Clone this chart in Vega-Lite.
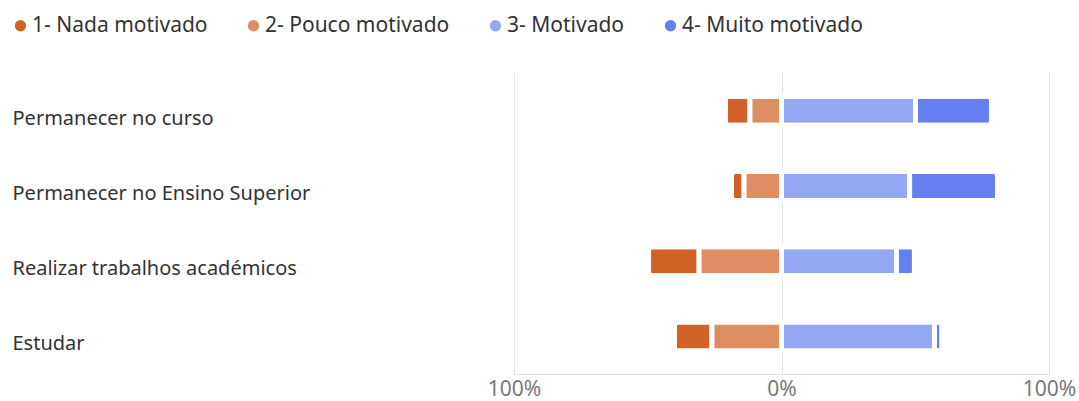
{
  "$schema": "https://vega.github.io/schema/vega-lite/v6.json",
  "width": 535,
  "height": 301,
  "autosize": "none",
  "padding": {"left": 514, "top": 73, "right": 30, "bottom": 27},
  "background": "white",
  "config": {
    "font": "Noto Sans, sans-serif",
    "view": {"stroke": null}
  },
  "data": {
    "values": [
      {"item": "Permanecer no curso", "cat": "1- Nada motivado", "pct": 9.2},
      {"item": "Permanecer no curso", "cat": "2- Pouco motivado", "pct": 11.8},
      {"item": "Permanecer no curso", "cat": "3- Motivado", "pct": 50.1},
      {"item": "Permanecer no curso", "cat": "4- Muito motivado", "pct": 28.4},
      {"item": "Permanecer no Ensino Superior", "cat": "1- Nada motivado", "pct": 4.7},
      {"item": "Permanecer no Ensino Superior", "cat": "2- Pouco motivado", "pct": 14.0},
      {"item": "Permanecer no Ensino Superior", "cat": "3- Motivado", "pct": 47.9},
      {"item": "Permanecer no Ensino Superior", "cat": "4- Muito motivado", "pct": 32.9},
      {"item": "Realizar trabalhos académicos", "cat": "1- Nada motivado", "pct": 18.9},
      {"item": "Realizar trabalhos académicos", "cat": "2- Pouco motivado", "pct": 30.8},
      {"item": "Realizar trabalhos académicos", "cat": "3- Motivado", "pct": 43.0},
      {"item": "Realizar trabalhos académicos", "cat": "4- Muito motivado", "pct": 6.7},
      {"item": "Estudar", "cat": "1- Nada motivado", "pct": 14.0},
      {"item": "Estudar", "cat": "2- Pouco motivado", "pct": 26.0},
      {"item": "Estudar", "cat": "3- Motivado", "pct": 57.2},
      {"item": "Estudar", "cat": "4- Muito motivado", "pct": 2.8}
    ]
  },
  "transform": [
    {"calculate": "(datum.cat == '1- Nada motivado' || datum.cat == '2- Pouco motivado') ? -datum.pct : datum.pct", "as": "signed"},
    {"calculate": "(datum.cat == '1- Nada motivado' || datum.cat == '4- Muito motivado') ? 2 : 1", "as": "ord"}
  ],
  "mark": {"type": "bar", "size": 29, "stroke": "white", "strokeWidth": 5, "cornerRadius": 4},
  "encoding": {
    "y": {
      "field": "item",
      "type": "nominal",
      "sort": ["Permanecer no curso", "Permanecer no Ensino Superior", "Realizar trabalhos académicos", "Estudar"],
      "title": null,
      "axis": {
        "domain": false,
        "ticks": false,
        "labelAlign": "left",
        "labelPadding": 502,
        "labelOffset": 8,
        "labelFontSize": 20,
        "labelColor": "#333333",
        "labelLimit": 0
      }
    },
    "x": {
      "field": "signed",
      "type": "quantitative",
      "stack": "zero",
      "scale": {"domain": [-100, 100]},
      "title": null,
      "axis": {
        "values": [-100, 0, 100],
        "labelExpr": "abs(datum.value) + '%'",
        "labelFlush": false,
        "grid": true,
        "gridColor": "#e3e3e3",
        "domain": true,
        "domainColor": "#e3e3e3",
        "ticks": false,
        "labelPadding": 4,
        "labelFontSize": 21,
        "labelColor": "#777777"
      }
    },
    "order": {"field": "ord", "type": "quantitative"},
    "color": {
      "field": "cat",
      "type": "nominal",
      "scale": {
        "domain": ["1- Nada motivado", "2- Pouco motivado", "3- Motivado", "4- Muito motivado"],
        "range": ["#D06228", "#DF8E64", "#94A7F3", "#657FF0"]
      },
      "legend": {
        "title": null,
        "orient": "none",
        "direction": "horizontal",
        "legendX": -504,
        "legendY": -58,
        "symbolType": "circle",
        "symbolSize": 130,
        "symbolStrokeWidth": 0,
        "labelFontSize": 21,
        "labelColor": "#333333",
        "labelOffset": 1,
        "columnPadding": 35,
        "labelLimit": 0
      }
    }
  }
}
